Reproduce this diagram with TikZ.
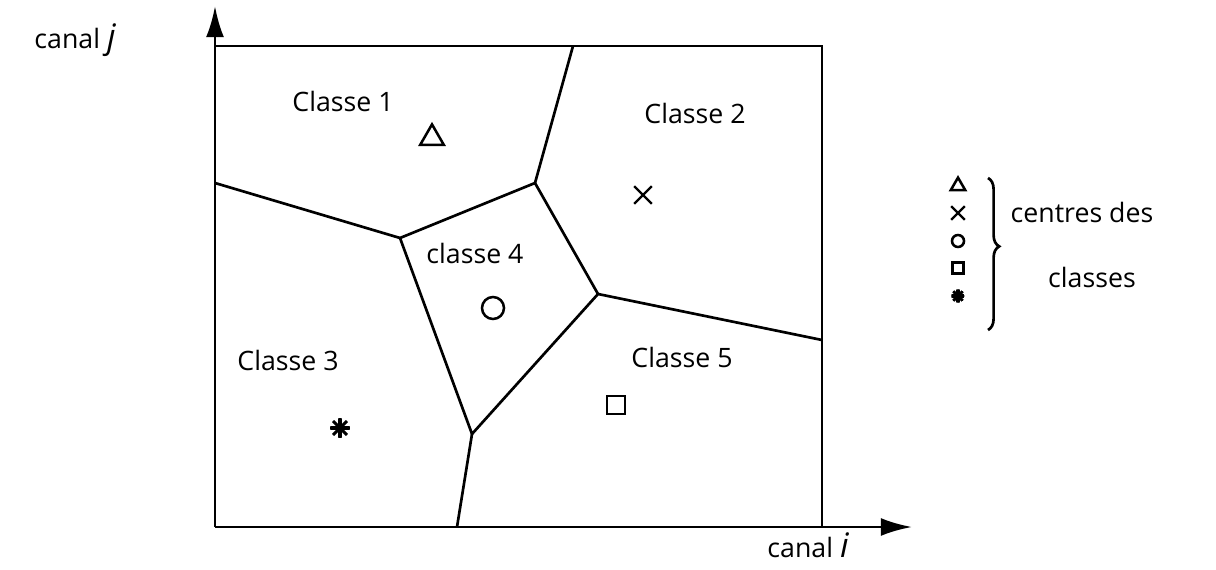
\documentclass[tikz,border=0pt]{standalone}
\usepackage{fontspec}
\setmainfont{Open Sans}
\usetikzlibrary{arrows.meta,shapes.geometric,shapes.misc,decorations.pathreplacing}

\begin{document}
\begin{tikzpicture}[
  x=0.025cm, y=-0.025cm,
  edge/.style={line width=1.9pt, draw=black},
  axis/.style={line width=2.1pt, draw=black, -{Latex[length=0.78cm, width=0.45cm]}},
  lbl/.style={font=\fontsize{19}{23}\selectfont},
  tri/.style={regular polygon, regular polygon sides=3, draw, line width=1.8pt, inner sep=0pt, minimum size=#1},
  croix/.style={cross out, draw, line width=1.7pt, inner sep=0pt, minimum size=#1},
  rond/.style={circle, draw, line width=1.8pt, inner sep=0pt, minimum size=#1},
  carre/.style={rectangle, draw, line width=1.8pt, inner sep=0pt, minimum size=#1},
  etoile/.style={circle, inner sep=0pt, minimum size=#1,
    path picture={\foreach \a in {0,45,90,135}
      \draw[line width=2.2pt] (path picture bounding box.center) ++(\a:#1/2) -- ++(\a+180:#1);}}
]
  \useasboundingbox (0,0) rectangle (1216,570);

  % Axes et cadre
  \coordinate (o) at (215,527);
  \coordinate (xend) at (912,527);
  \coordinate (yend) at (215,6);
  \coordinate (tl) at (215,46);
  \coordinate (tr) at (822,46);
  \coordinate (br) at (822,527);
  \draw[axis] (o) -- (xend);
  \draw[axis] (o) -- (yend);
  \draw[edge] (tl) -- (tr) -- (br);

  % Sommets du diagramme de Voronoi
  \coordinate (va) at (400,238);
  \coordinate (vb) at (535,183);
  \coordinate (vc) at (598,294);
  \coordinate (vd) at (472,434);

  % Bords sur le cadre
  \coordinate (ea) at (215,183);
  \coordinate (eb) at (573,46);
  \coordinate (ec) at (822,340);
  \coordinate (ed) at (457,527);

  % Frontieres entre classes
  \draw[edge] (va) -- (vb) -- (vc) -- (vd) -- cycle;
  \draw[edge] (va) -- (ea);
  \draw[edge] (vb) -- (eb);
  \draw[edge] (vc) -- (ec);
  \draw[edge] (vd) -- (ed);

  % Etiquettes des classes
  \node[lbl] (l1) at (343,101) {Classe 1};
  \node[lbl] (l2) at (695,113) {Classe 2};
  \node[lbl] (l3) at (288,360) {Classe 3};
  \node[lbl] (l4) at (475,253) {classe 4};
  \node[lbl] (l5) at (682,357) {Classe 5};

  % Centres des classes
  \node[tri=0.68cm] (c1) at (432,138) {};
  \node[croix=0.38cm] (c2) at (643,195) {};
  \node[rond=0.55cm] (c4) at (493,308) {};
  \node[carre=0.46cm] (c5) at (616,405) {};
  \node[etoile=0.5cm] (c3) at (340,428) {};

  % Noms des axes
  \node[lbl] (ny) at (75,40) {canal {\fontsize{24}{24}\selectfont\itshape j}};
  \node[lbl] (nx) at (808,545) {canal {\fontsize{24}{24}\selectfont\itshape i}};

  % Legende
  \node[tri=0.42cm] (g1) at (958,186) {};
  \node[croix=0.28cm] (g2) at (958,213) {};
  \node[rond=0.3cm] (g4) at (958,241) {};
  \node[carre=0.28cm] (g5) at (958,268) {};
  \node[etoile=0.34cm] (g3) at (958,296) {};
  \coordinate (bt) at (988,178);
  \coordinate (bb) at (988,330);
  \draw[edge, decorate, decoration={brace, amplitude=0.28cm, aspect=0.45}] (bt) -- (bb);
  \node[lbl] (t1) at (1082,212) {centres des};
  \node[lbl] (t2) at (1092,277) {classes};
\end{tikzpicture}
\end{document}
